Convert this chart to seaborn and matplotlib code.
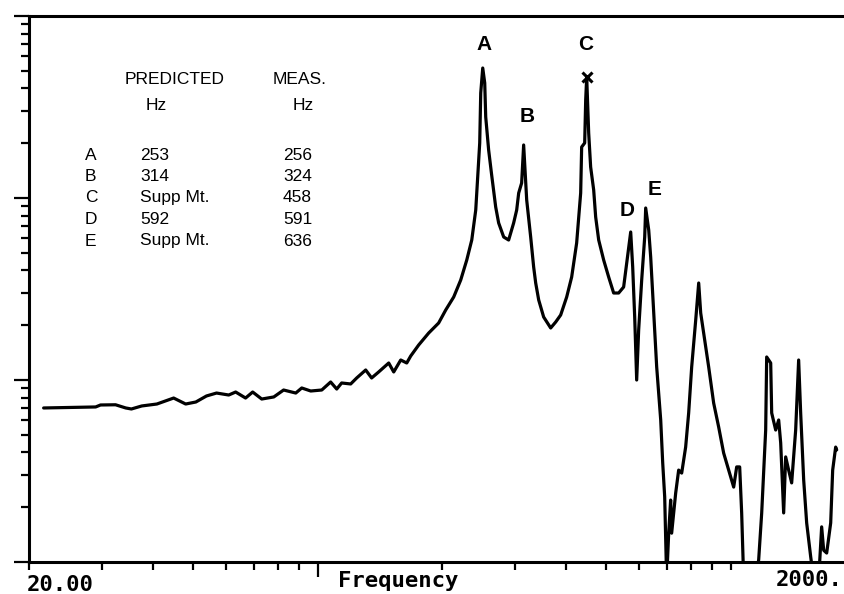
import pandas as pd
import seaborn as sns
import matplotlib.pyplot as plt
from matplotlib.ticker import FixedLocator, NullFormatter

# frequency response (Hz, linear magnitude on log axis)
freq_hz = [21.7, 29.0, 29.8, 32.4, 34.3, 35.4, 37.5, 40.8, 44.8, 47.9,
           50.7, 53.8, 56.9, 60.9, 63.3, 66.9, 69.6, 73.2, 78.3, 82.7,
           88.5, 91.5, 96.2, 102.3, 107.5, 111.2, 114.3, 120.2, 124.3, 130.7,
           135.1, 140.5, 148.6, 152.8, 158.9, 164.3, 168.0, 175.6, 185.7, 196.3,
           204.2, 213.5, 222.0, 229.6, 236.1, 241.4, 244.1, 246.8, 248.2, 251.0,
           253.8, 255.2, 259.4, 263.8, 269.8, 274.3, 282.1, 290.0, 298.2, 303.3,
           306.7, 311.8, 315.3, 318.9, 320.7, 327.9, 333.4, 337.2, 342.9, 352.5,
           366.6, 377.0, 387.6, 400.8, 412.1, 423.7, 433.3, 435.7, 443.1, 445.6,
           448.1, 453.1, 458.1, 465.9, 471.1, 479.1, 492.6, 506.5, 520.8, 535.5,
           550.6, 560.0, 572.7, 579.1, 585.6, 592.1, 598.7, 608.9, 619.2, 622.6,
           633.2, 640.2, 651.1, 662.0, 677.0, 684.6, 692.2, 696.1, 699.8, 707.8,
           715.6, 719.6, 735.9, 748.3, 761.0, 778.0, 791.2, 804.6, 822.9, 836.7,
           846.1, 860.3, 884.6, 909.5, 935.2, 961.6, 988.9, 1016.9, 1034.0, 1051.5,
           1063.2, 1075.2, 1149.5, 1169.0, 1188.8, 1215.5, 1222.3, 1250.0, 1256.9, 1285.3,
           1306.9, 1321.6, 1343.7, 1358.8, 1381.5, 1405.0, 1436.7, 1460.8, 1477.3, 1502.4,
           1527.6, 1562.1, 1588.5, 1633.3, 1660.7, 1679.6, 1707.9, 1746.5, 1766.0, 1795.6,
           1805.8]
magnitude = [7.02, 7.11, 7.29, 7.31, 7.02, 6.93, 7.20, 7.38, 7.96, 7.38,
             7.57, 8.17, 8.48, 8.27, 8.59, 7.96, 8.59, 7.86, 8.07, 8.81,
             8.48, 9.04, 8.70, 8.81, 9.75, 8.92, 9.63, 9.51, 10.26, 11.35,
             10.26, 11.07, 12.40, 11.07, 12.88, 12.40, 13.55, 15.57, 18.12, 20.57,
             24.25, 28.58, 35.43, 45.62, 58.77, 85.94, 130.5, 200.6, 377.6, 517.9,
             428.5, 278.7, 183.5, 133.8, 89.2, 72.9, 61.05, 58.77, 72.9, 85.94,
             106.5, 120.9, 195.6, 120.9, 97.5, 61.05, 41.77, 34.12, 27.52, 22.19,
             19.31, 20.83, 22.76, 28.58, 36.80, 56.58, 106.5, 190.6, 200.6, 345.5,
             462.1, 227.6, 148.0, 110.7, 78.6, 58.77, 45.62, 36.80, 30.06, 30.06,
             32.43, 43.96, 65.05, 41.77, 22.19, 10.0, 18.83, 35.43, 61.05, 88.13,
             66.72, 47.39, 23.34, 11.79, 6.03, 3.50, 2.28, 1.32, 0.8, 1.44,
             2.19, 1.44, 2.39, 3.20, 3.08, 4.28, 6.59, 11.79, 21.36, 34.12,
             23.34, 18.12, 11.79, 7.47, 5.52, 3.97, 3.20, 2.58, 3.33, 3.33,
             1.86, 0.8, 0.8, 1.03, 1.86, 5.31, 13.38, 12.40, 6.59, 5.31,
             6.03, 4.51, 1.86, 3.78, 3.20, 2.72, 5.31, 12.88, 6.59, 2.82,
             1.64, 1.07, 0.8, 0.8, 1.56, 1.16, 1.12, 1.64, 3.20, 4.28,
             4.13]

# peak letters and the "x" mark on peak C
peak_ids = ['A', 'B', 'C', 'D', 'E']
peak_label_hz = [252.4, 322.3, 445.6, 560.0, 654.8]
peak_label_mag = [693, 282, 693, 85.9, 110.7]
marked_hz = [448.1]
marked_mag = [462.1]

# mode table
mode_ids = ['A', 'B', 'C', 'D', 'E']
predicted_hz = ['253', '314', 'Supp Mt.', '592', 'Supp Mt.']
measured_hz = ['256', '324', '458', '591', '636']

W, H = 845, 594


def px(x, y):
    # pixel position -> figure fraction
    return x / W, 1 - y / H


def main():
    sns.set_style("ticks")
    plt.rcParams['font.family'] = ['Liberation Sans', 'DejaVu Sans']
    plt.rcParams['text.color'] = 'black'

    fig = plt.figure(figsize=(W / 100, H / 100), dpi=100)
    ax = fig.add_axes([29 / W, 1 - 562 / H, 826 / W, 546 / H])

    df = pd.DataFrame({'freq': freq_hz, 'mag': magnitude})
    sns.lineplot(data=df, x='freq', y='mag', ax=ax, color='black',
                 linewidth=2.3, sort=False, estimator=None)
    ax.plot(marked_hz, marked_mag, ls='none', marker='x', ms=7, mew=2.2, color='black')

    ax.set_xscale('log'); ax.set_yscale('log')
    ax.set_xlim(20, 2000); ax.set_ylim(1, 1000)
    ax.set_xlabel(''); ax.set_ylabel('')

    # ticks: long at 100 Hz only, short elsewhere
    ax.xaxis.set_major_locator(FixedLocator([100]))
    ax.xaxis.set_minor_locator(FixedLocator([20, 30, 40, 50, 60, 70, 80, 90,
                                             200, 300, 400, 500, 600, 700, 800, 900, 1000]))
    ax.yaxis.set_major_locator(FixedLocator([1, 10, 100, 1000]))
    ax.yaxis.set_minor_locator(FixedLocator([k * 10 ** e for e in range(3) for k in range(2, 10)]))
    for axis in (ax.xaxis, ax.yaxis):
        axis.set_major_formatter(NullFormatter())
        axis.set_minor_formatter(NullFormatter())
    ax.tick_params(which='major', direction='out', length=11, width=1.6, color='black')
    ax.tick_params(which='minor', direction='out', length=6, width=1.6, color='black')
    for sp in ax.spines.values():
        sp.set_linewidth(2.2)
        sp.set_color('black')

    for pid, f, m in zip(peak_ids, peak_label_hz, peak_label_mag):
        ax.text(f, m, pid, ha='center', va='center', fontsize=15, fontweight='bold', color='black')

    # mode table
    tkw = dict(fontsize=12.5, va='center', ha='left', color='black')
    fig.text(*px(125, 79), 'PREDICTED', **tkw)
    fig.text(*px(273, 79), 'MEAS.', **tkw)
    fig.text(*px(146, 105), 'Hz', **tkw)
    fig.text(*px(293, 105), 'Hz', **tkw)
    for i, (mid, p, m) in enumerate(zip(mode_ids, predicted_hz, measured_hz)):
        y = 155 + i * 21.5
        fig.text(*px(85, y), mid, **tkw)
        fig.text(*px(140, y), p, **tkw)
        fig.text(*px(283, y), m, **tkw)

    # axis annotations in the analyser font
    mkw = dict(family='DejaVu Sans Mono', fontweight='bold', fontsize=16,
               va='top', ha='left', color='black')
    fig.text(*px(27, 575), '20.00', **mkw)
    fig.text(*px(338, 571), 'Frequency', **mkw)
    fig.text(*px(776, 570), '2000.', **mkw)

    fig.savefig('out.png', dpi=100)


if __name__ == "__main__":
    main()
